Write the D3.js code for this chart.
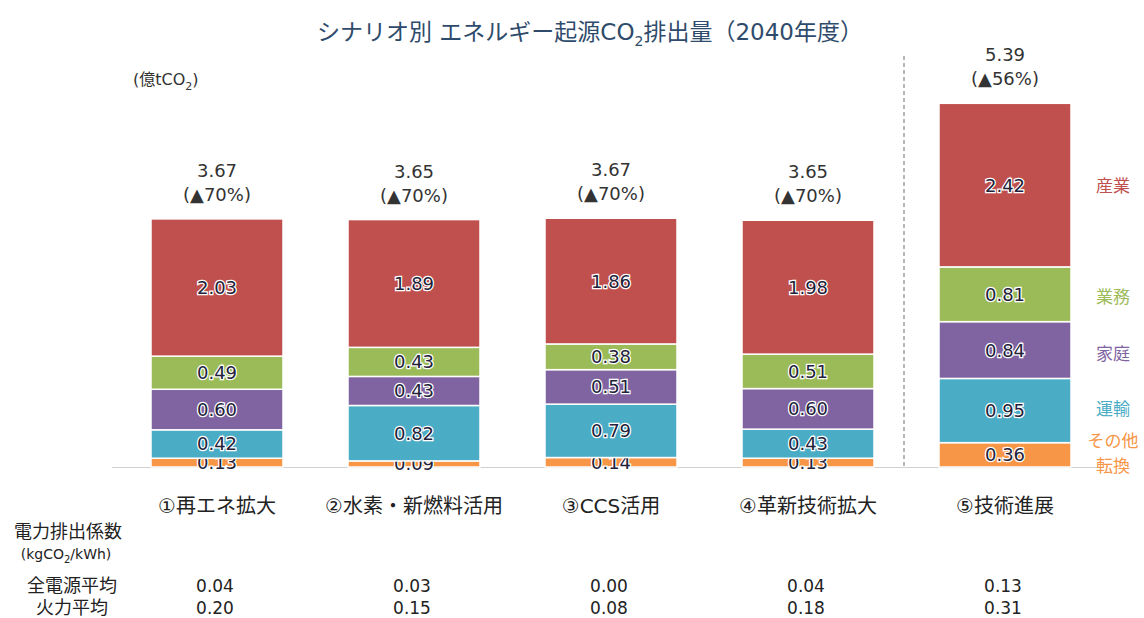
<!DOCTYPE html>
<html>
<head>
<meta charset="utf-8">
<script src="https://cdn.jsdelivr.net/npm/d3@7"></script>
<style>
  body { margin: 0; background: #fff; }
  svg text { font-family: "DejaVu Sans", "Noto Sans CJK JP", sans-serif; }
</style>
</head>
<body>
<div id="chart"></div>
<script>
// scenarios (x categories)
const scenarios = ["①再エネ拡大", "②水素・新燃料活用", "③CCS活用", "④革新技術拡大", "⑤技術進展"];
// sectors, bottom to top
const sectors = ["その他転換", "運輸", "家庭", "業務", "産業"];
const sectorColors = ["#f79646", "#4bacc6", "#8064a2", "#9bbb59", "#c0504d"];
// values by sector (億tCO2), one per scenario
const otherConv = [0.13, 0.09, 0.14, 0.13, 0.36];
const transport = [0.42, 0.82, 0.79, 0.43, 0.95];
const household = [0.60, 0.43, 0.51, 0.60, 0.84];
const commercial = [0.49, 0.43, 0.38, 0.51, 0.81];
const industry = [2.03, 1.89, 1.86, 1.98, 2.42];
const totals = ["3.67", "3.65", "3.67", "3.65", "5.39"];
const reductions = ["(▲70%)", "(▲70%)", "(▲70%)", "(▲70%)", "(▲56%)"];
// electricity emission factor (kgCO2/kWh)
const allSourceAvg = ["0.04", "0.03", "0.00", "0.04", "0.13"];
const thermalAvg = ["0.20", "0.15", "0.08", "0.18", "0.31"];

const series = [otherConv, transport, household, commercial, industry];
const rows = scenarios.map((s, i) => {
    const r = { scenario: s };
    sectors.forEach((k, j) => (r[k] = series[j][i]));
    return r;
});

const W = 1144, H = 618;
const svg = d3.select("#chart").append("svg")
    .attr("width", W).attr("height", H)
    .attr("viewBox", [0, 0, W, H]);

const x = d3.scaleBand().domain(scenarios)
    .range([118.5, 1103.5]).paddingInner(0.33).paddingOuter(0.165);
const y = d3.scaleLinear().domain([0, 6]).range([467, 467 - 6 * 67.6]);

const stack = d3.stack().keys(sectors)(rows);

// title
const title = svg.append("text")
    .attr("x", 590).attr("y", 40)
    .attr("text-anchor", "middle")
    .attr("font-size", 23).attr("fill", "#2f4b6b");
title.append("tspan").text("シナリオ別 エネルギー起源CO");
title.append("tspan").attr("font-size", 14).attr("dy", 6).text("2");
title.append("tspan").attr("dy", -6).text("排出量（2040年度）");

// unit
const unit = svg.append("text").attr("x", 133).attr("y", 85)
    .attr("font-size", 16).attr("fill", "#333");
unit.append("tspan").text("(億tCO");
unit.append("tspan").attr("font-size", 11).attr("dy", 5).text("2");
unit.append("tspan").attr("dy", -5).text(")");

// dashed separator
svg.append("line")
    .attr("x1", 904).attr("x2", 904).attr("y1", 56).attr("y2", 467)
    .attr("stroke", "#888").attr("stroke-width", 1.2)
    .attr("stroke-dasharray", "4,3");

// baseline
svg.append("line")
    .attr("x1", 112).attr("x2", 1100).attr("y1", 467.5).attr("y2", 467.5)
    .attr("stroke", "#d0d0d0").attr("stroke-width", 1);

// bars
const layer = svg.append("g").selectAll("g").data(stack).join("g")
    .attr("fill", (d, i) => sectorColors[i]);

layer.selectAll("rect").data(d => d).join("rect")
    .attr("x", d => x(d.data.scenario))
    .attr("width", x.bandwidth())
    .attr("y", d => y(d[1]))
    .attr("height", d => y(d[0]) - y(d[1]))
    .attr("stroke", "#fff").attr("stroke-width", 1.5);

// segment labels
layer.selectAll("text").data(d => d).join("text")
    .attr("x", d => x(d.data.scenario) + x.bandwidth() / 2)
    .attr("y", d => (y(d[0]) + y(d[1])) / 2)
    .attr("dy", "0.36em")
    .attr("text-anchor", "middle")
    .attr("font-size", 18)
    .attr("fill", "#22223a")
    .attr("stroke", "#fff").attr("stroke-width", 2.5)
    .attr("paint-order", "stroke")
    .text(d => d3.format(".2f")(d[1] - d[0]));

// totals
const topLayer = stack[stack.length - 1];
svg.append("g").selectAll("text").data(topLayer).join("text")
    .attr("x", d => x(d.data.scenario) + x.bandwidth() / 2)
    .attr("y", d => y(d[1]) - 42)
    .attr("text-anchor", "middle")
    .attr("font-size", 18).attr("fill", "#333")
    .text((d, i) => totals[i]);
svg.append("g").selectAll("text").data(topLayer).join("text")
    .attr("x", d => x(d.data.scenario) + x.bandwidth() / 2)
    .attr("y", d => y(d[1]) - 18)
    .attr("text-anchor", "middle")
    .attr("font-size", 18).attr("fill", "#333")
    .text((d, i) => reductions[i]);

// legend at right
const legendPos = [
    { k: "産業", y: 192, c: "#c0504d" },
    { k: "業務", y: 303, c: "#9bbb59" },
    { k: "家庭", y: 360, c: "#8064a2" },
    { k: "運輸", y: 415, c: "#4bacc6" },
    { k: "その他", y: 447, c: "#f79646" },
    { k: "転換", y: 472, c: "#f79646" }
];
svg.append("g").selectAll("text").data(legendPos).join("text")
    .attr("x", 1113).attr("y", d => d.y)
    .attr("text-anchor", "middle")
    .attr("font-size", 17).attr("fill", d => d.c)
    .text(d => d.k);

// category axis
const xAxis = svg.append("g").attr("transform", "translate(0,467)")
    .call(d3.axisBottom(x).tickSize(0).tickPadding(0));
xAxis.select(".domain").remove();
xAxis.selectAll("text")
    .attr("y", 46).attr("dy", 0)
    .attr("font-size", 20).attr("fill", "#222")
    .style("font-family", '"DejaVu Sans", "Noto Sans CJK JP", sans-serif');

// emission factor table
svg.append("text").attr("x", 68).attr("y", 538)
    .attr("text-anchor", "middle").attr("font-size", 18).attr("fill", "#222")
    .text("電力排出係数");
const u2 = svg.append("text").attr("x", 66).attr("y", 559)
    .attr("text-anchor", "middle").attr("font-size", 14).attr("fill", "#222");
u2.append("tspan").text("(kgCO");
u2.append("tspan").attr("font-size", 10).attr("dy", 4).text("2");
u2.append("tspan").attr("dy", -4).text("/kWh)");
svg.append("text").attr("x", 72).attr("y", 592)
    .attr("text-anchor", "middle").attr("font-size", 18).attr("fill", "#222")
    .text("全電源平均");
svg.append("text").attr("x", 72).attr("y", 614)
    .attr("text-anchor", "middle").attr("font-size", 18).attr("fill", "#222")
    .text("火力平均");

svg.append("g").selectAll("text").data(scenarios).join("text")
    .attr("x", d => x(d) + x.bandwidth() / 2 - 2)
    .attr("y", 592)
    .attr("text-anchor", "middle").attr("font-size", 17).attr("fill", "#222")
    .text((d, i) => allSourceAvg[i]);
svg.append("g").selectAll("text").data(scenarios).join("text")
    .attr("x", d => x(d) + x.bandwidth() / 2 - 2)
    .attr("y", 614)
    .attr("text-anchor", "middle").attr("font-size", 17).attr("fill", "#222")
    .text((d, i) => thermalAvg[i]);
</script>
</body>
</html>
